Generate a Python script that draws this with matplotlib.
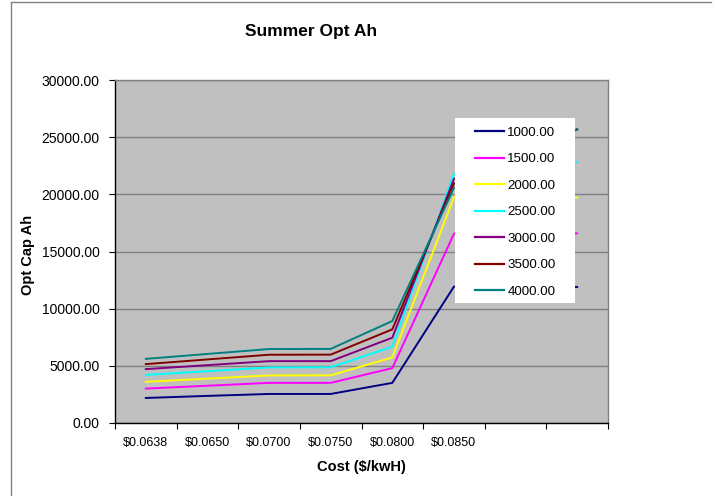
import matplotlib
matplotlib.use("Agg")
import matplotlib.pyplot as plt
from matplotlib.lines import Line2D
from matplotlib.patches import Rectangle
import numpy as np

plt.rcParams['font.family'] = ['Liberation Sans', 'DejaVu Sans']

categories = ["$0.0638", "$0.0650", "$0.0700", "$0.0750", "$0.0800", "$0.0850", "", ""]
series_names = ["1000.00", "1500.00", "2000.00", "2500.00", "3000.00", "3500.00", "4000.00"]
colors = ["#000080", "#FF00FF", "#FFFF00", "#00FFFF", "#800080", "#800000", "#008080"]

# None = empty cell (Excel connects across it)
s1000 = [2190, 2370, 2540, 2540, 3510, 11930, None, 11900]
s1500 = [3010, 3260, 3510, 3510, 4800, 16550, None, 16580]
s2000 = [3600, 3880, 4160, 4170, 5730, 19740, None, 19710]
s2500 = [4210, 4530, 4860, 4870, 6670, 21790, None, 22810]
s3000 = [4710, 5060, 5410, 5410, 7460, 21350, None, 25670]
s3500 = [5150, 5560, 5970, 5980, 8190, 20940, None, 25700]
s4000 = [5610, 6040, 6470, 6480, 8920, 20560, None, 25700]
all_series = [s1000, s1500, s2000, s2500, s3000, s3500, s4000]

W, H = 716, 496
X0, X1, Y0, Y1 = 115, 608, 80, 423
fig = plt.figure(figsize=(W/100, H/100), dpi=100)
ax = fig.add_axes([X0/W, 1-Y1/H, (X1-X0)/W, (Y1-Y0)/H])
ax.set_facecolor("#C0C0C0")

def ax_x(px):
    return (px - X0) / (X1 - X0)

def ax_y(py):
    return (Y1 - py) / (Y1 - Y0)

for name, vals, c in zip(series_names, all_series, colors):
    xs = [i for i, v in enumerate(vals) if v is not None]
    ys = [v for v in vals if v is not None]
    ax.plot(xs, ys, color=c, lw=1.4, label=name, zorder=3)

ax.set_xlim(-0.5, len(categories) - 0.5)
ax.set_ylim(0, 30000)
yt = np.arange(0, 30001, 5000)
ax.set_yticks(yt)
ax.set_yticklabels([f"{v:.2f}" for v in yt])
ax.yaxis.grid(True, color="#808080", lw=1.0, zorder=1)
ax.set_axisbelow(True)

ax.set_xticks(np.arange(-0.5, len(categories), 1.0))
ax.set_xticklabels([])
ax.set_xticks(np.arange(len(categories)), minor=True)
ax.set_xticklabels(categories, minor=True)
ax.tick_params(axis="x", which="minor", length=0, pad=10, labelsize=9)
ax.tick_params(axis="x", which="major", length=4, direction="out", color="#000000")
ax.tick_params(axis="y", length=4, direction="out", labelsize=10, pad=7)

for s in ["left", "bottom"]:
    ax.spines[s].set_color("black")
    ax.spines[s].set_linewidth(1.0)
for s in ["top", "right"]:
    ax.spines[s].set_color("#808080")
    ax.spines[s].set_linewidth(1.0)

fig.text(361/W, 1-467/H, "Cost ($/kwH)", ha="center", va="center",
         fontsize=10.5, fontweight="bold")
fig.text(28/W, 1-255/H, "Opt Cap Ah", ha="center", va="center", rotation=90,
         fontsize=10.5, fontweight="bold")
fig.text(311/W, 1-36/H, "Summer Opt Ah", ha="center", va="baseline",
         fontsize=12.5, fontweight="bold")

# legend box
ax.add_patch(Rectangle((ax_x(455), ax_y(303)), ax_x(575) - ax_x(455), ax_y(118) - ax_y(303),
                       transform=ax.transAxes, facecolor="white", edgecolor="none",
                       zorder=4, clip_on=False))
leg = ax.legend(loc="upper left", bbox_to_anchor=(ax_x(475), ax_y(126.5)),
                frameon=False, fontsize=9.6, labelspacing=1.06, handlelength=2.2,
                handletextpad=0.22, borderpad=0, borderaxespad=0)
leg.set_zorder(5)
for h in leg.get_lines():
    h.set_linewidth(1.6)

# outer chart border (top and left visible)
fig.add_artist(Line2D([11/W, 711/W], [1-2/H, 1-2/H], color="#808080", lw=1.0))
fig.add_artist(Line2D([11/W, 11/W], [0, 1-2/H], color="#808080", lw=1.0))

fig.savefig("out.png", dpi=100)
